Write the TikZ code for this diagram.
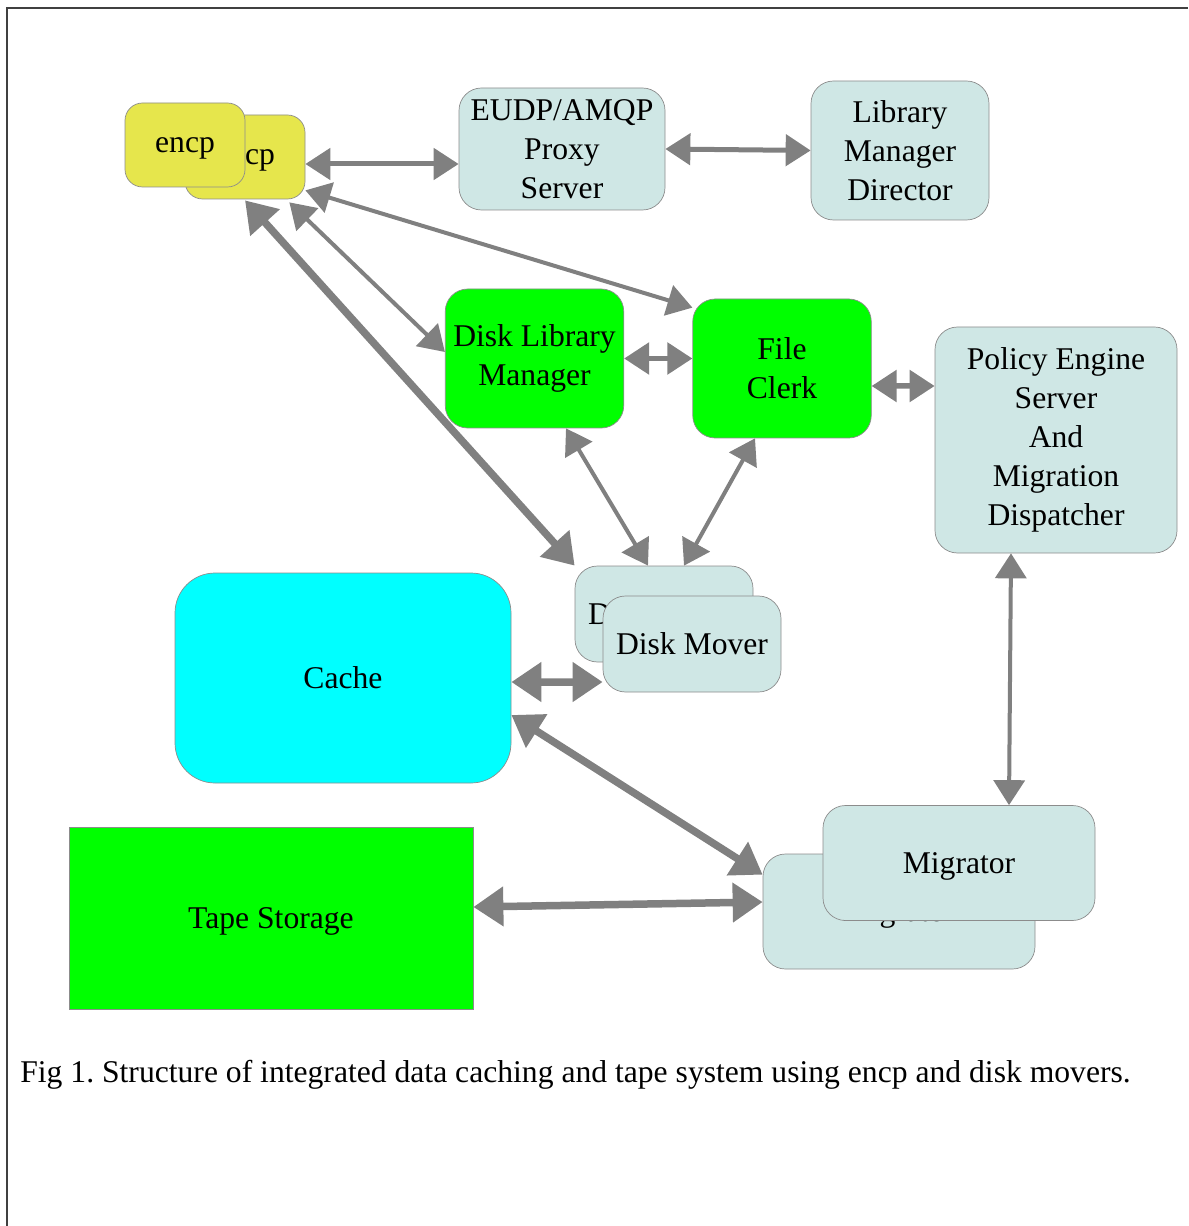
\documentclass[tikz,border=0pt]{standalone}
\usepackage{fontspec}
\setmainfont{Liberation Serif}
\usepackage{tikz}
\usetikzlibrary{arrows.meta}
\definecolor{clientyellow}{HTML}{E6E64C}
\definecolor{serverblue}{HTML}{CFE7E5}
\definecolor{cachecyan}{HTML}{00FFFF}
\definecolor{activegreen}{HTML}{00FF00}
\definecolor{boxline}{HTML}{8C8C8C}
\definecolor{linkgray}{HTML}{808080}
\tikzstyle{client} = [rectangle, 
rounded corners=0.35cm, 
minimum width=2.4cm, 
minimum height=1.68cm, 
text depth=0pt, 
draw=boxline, 
fill=clientyellow]
\tikzstyle{server} = [rectangle, 
rounded corners=0.45cm, 
draw=boxline, 
fill=serverblue, 
align=center]
\tikzstyle{core} = [rectangle, 
rounded corners=0.45cm, 
minimum width=3.57cm, 
minimum height=2.78cm, 
draw=boxline, 
fill=activegreen, 
align=center]
\tikzstyle{link} = [draw=linkgray, line width=0.08cm, {Triangle[length=0.5cm,width=0.62cm]}-{Triangle[length=0.5cm,width=0.62cm]}]
\tikzstyle{biglink} = [draw=linkgray, line width=0.15cm, {Triangle[length=0.6cm,width=0.76cm]}-{Triangle[length=0.6cm,width=0.76cm]}]
\begin{document}
\frenchspacing
\begin{tikzpicture}[every node/.style={font=\fontsize{18}{22.2}\selectfont, inner sep=0pt}]
    \useasboundingbox (0,0) rectangle (23.76,-24.52);
    \draw [black!75, line width=0.03cm] (0.14,-24.52) -- (0.14,-0.16) -- (23.76,-0.16);

    \node (encpB) [client] at (4.90,-3.14) {encp};
    \node at (encpB.center) (encpA) [client, xshift=-1.2cm, yshift=0.24cm] {encp};
    \node (proxy) [server, minimum width=4.12cm, minimum height=2.44cm] at (11.24,-2.98) {EUDP/AMQP\\Proxy\\Server};
    \node (lmd) [server, minimum width=3.56cm, minimum height=2.78cm] at (18.0,-3.01) {Library\\Manager\\Director};

    \node (dlm) [core] at (10.69,-7.17) {Disk Library\\Manager};
    \node (clerk) [core] at (15.64,-7.37) {File\\Clerk};
    \node (pes) [server, minimum width=4.84cm, minimum height=4.52cm] at (21.12,-8.80) {Policy Engine\\Server\\And\\Migration\\Dispatcher};

    \node (moverB) [server, minimum width=3.56cm, minimum height=1.92cm] at (13.28,-12.28) {Disk Mover};
    \node at (moverB.center) (moverA) [server, minimum width=3.56cm, minimum height=1.92cm, xshift=0.56cm, yshift=-0.6cm] {Disk Mover};
    \node (cache) [rectangle, rounded corners=0.8cm, minimum width=6.72cm, minimum height=4.2cm, draw=boxline, fill=cachecyan] at (6.86,-13.56) {Cache};

    \node (tape) [rectangle, minimum width=8.08cm, minimum height=3.64cm, text depth=0pt, draw=boxline, fill=activegreen] at (5.42,-18.36) {Tape Storage};
    \node (migB) [server, minimum width=5.44cm, minimum height=2.3cm, text depth=0pt] at (17.98,-18.23) {Migrator};
    \node at (migB.center) (migA) [server, minimum width=5.44cm, minimum height=2.3cm, text depth=0pt, xshift=1.2cm, yshift=0.97cm] {Migrator};

    \node (caption) [anchor=west] at (0.4,-21.5) {Fig 1. Structure of integrated data caching and tape system using encp and disk movers.};

    \draw [link, line width=0.1cm] ([yshift=-0.14cm]encpB.east) -- ([yshift=-0.30cm]proxy.west);
    \draw [link, line width=0.1cm] (proxy.east) -- (lmd.west);
    \draw [link] ([yshift=0.18cm]encpB.south east) -- ([yshift=-0.18cm]clerk.north west);
    \draw [link] ([xshift=-0.32cm,yshift=-0.06cm]encpB.south east) -- ([yshift=0.13cm]dlm.west);
    \draw [biglink] ([yshift=-0.02cm]encpB.south) -- (moverB.north west);
    \draw [link] ([xshift=0.63cm]dlm.south) -- ([xshift=-0.32cm]moverB.north);
    \draw [link] ([xshift=-0.54cm]clerk.south) -- ([xshift=0.4cm]moverB.north);
    \draw [link, line width=0.11cm] (dlm.east) -- (dlm.east -| clerk.west);
    \draw [link, line width=0.11cm] ([yshift=-0.35cm]clerk.east) -- ([yshift=1.08cm]pes.west);
    \draw [link] ([xshift=-0.9cm]pes.south) -- ([xshift=1.0cm]migA.north);
    \draw [biglink] ([yshift=-0.08cm]cache.east) -- ([yshift=-0.76cm]moverA.west);
    \draw [biglink] ([yshift=-0.74cm]cache.east) -- ([yshift=-0.42cm]migB.north west);
    \draw [biglink] ([yshift=0.22cm]tape.east) -- ([yshift=0.19cm]migB.west);
\end{tikzpicture}
\end{document}
